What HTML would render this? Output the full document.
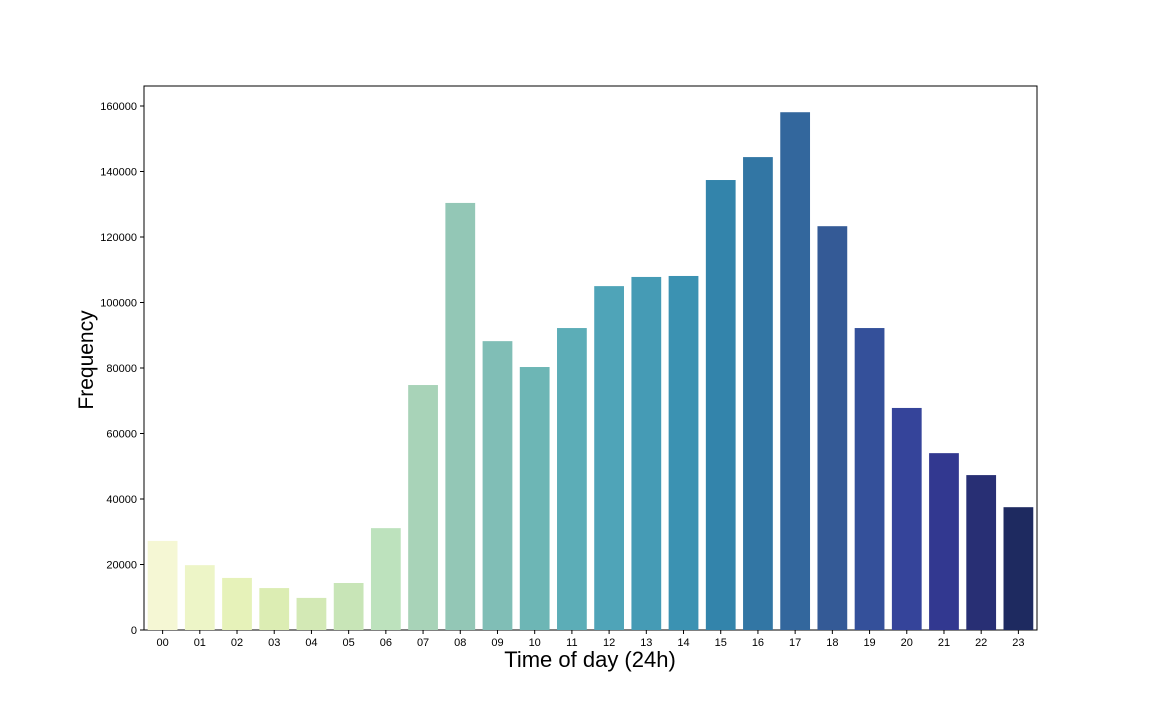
<!DOCTYPE html>
<html><head><meta charset="utf-8"><style>
body{margin:0;background:#fff;}
svg text{font-family:"Liberation Sans",sans-serif;fill:#000;}
</style></head><body>
<svg id="chart" width="1152" height="720">
<rect x="144" y="86" width="893" height="544" fill="none" stroke="#000" stroke-width="1"/>
<g id="bars"></g><g id="xt"></g><g id="yt"></g>
<text x="590" y="667" font-size="22" text-anchor="middle">Time of day (24h)</text>
<text transform="translate(93,360) rotate(-90)" font-size="21" text-anchor="middle">Frequency</text>
</svg>
<script>
const hours=["00","01","02","03","04","05","06","07","08","09","10","11","12","13","14","15","16","17","18","19","20","21","22","23"];
const counts=[27200,19800,15900,12800,9800,14350,31100,74800,130400,88200,80300,92200,105000,107800,108100,137400,144400,158100,123300,92200,67800,54000,47300,37500];
const yTicks=[0,20000,40000,60000,80000,100000,120000,140000,160000];
const colors=["#f5f7d4","#edf5c7","#e6f2b9","#dcedb3","#d3e9b5","#c8e5b7","#bde2bd","#a8d3b8","#93c7b6","#80beb6","#6db6b5","#5cadb7","#4fa4b8","#459bb5","#3b92b2","#3384ab","#3276a4","#33679d","#345a96","#34509a","#35449a","#323890","#282f74","#1e2a60"];
const X0=144,W=893,Y0=630,H=524;
const band=W/hours.length;
const x=i=>X0+band*i;
const y=v=>Y0-v/160000*H;
const NS="http://www.w3.org/2000/svg";
const bg=document.getElementById('bars'),xg=document.getElementById('xt'),yg=document.getElementById('yt');
hours.forEach((h,i)=>{
 const r=document.createElementNS(NS,'rect');
 r.setAttribute('x',x(i)+band*0.1);r.setAttribute('width',band*0.8);
 r.setAttribute('y',y(counts[i]));r.setAttribute('height',Y0-y(counts[i]));
 r.setAttribute('fill',colors[i]);
 
 
 bg.appendChild(r);
 const t=document.createElementNS(NS,'line');
 t.setAttribute('x1',x(i)+band/2);t.setAttribute('x2',x(i)+band/2);t.setAttribute('y1',630);t.setAttribute('y2',634);t.setAttribute('stroke','#000');
 xg.appendChild(t);
 const l=document.createElementNS(NS,'text');
 l.setAttribute('x',x(i)+band/2);l.setAttribute('y',646);l.setAttribute('font-size','11');l.setAttribute('text-anchor','middle');
 l.textContent=h;
 
 
 xg.appendChild(l);
});
yTicks.forEach(v=>{
 const t=document.createElementNS(NS,'line');
 t.setAttribute('x1',140);t.setAttribute('x2',144);t.setAttribute('y1',y(v));t.setAttribute('y2',y(v));t.setAttribute('stroke','#000');
 yg.appendChild(t);
 const l=document.createElementNS(NS,'text');
 l.setAttribute('x',137);l.setAttribute('y',y(v)+4);l.setAttribute('font-size','11');l.setAttribute('text-anchor','end');
 l.textContent=v;
 
 
 yg.appendChild(l);
});
</script>
</body></html>
